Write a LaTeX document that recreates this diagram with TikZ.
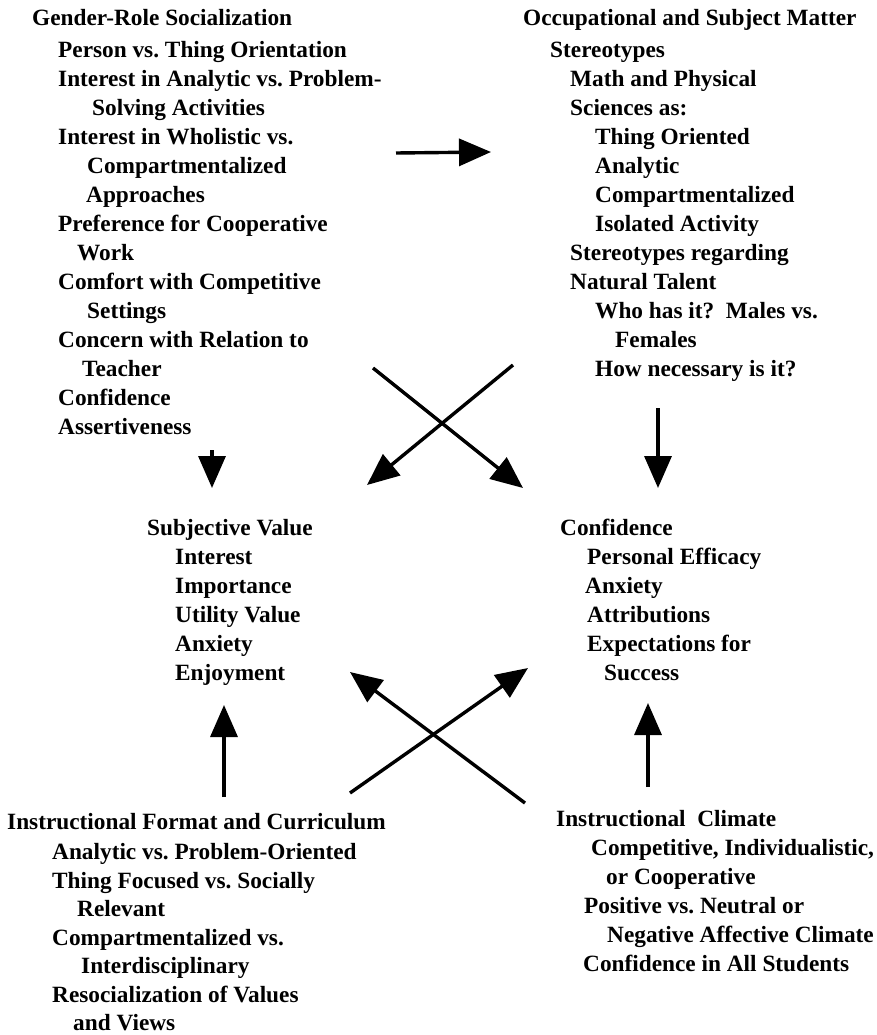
\documentclass[tikz,border=0pt]{standalone}
\usepackage{fontspec}
\setmainfont{Liberation Serif}
\usepackage{tikz}
\usetikzlibrary{arrows.meta}
\newcommand{\indt}[1]{\hspace*{#1pt}}
\tikzset{
  textblock/.style={anchor=north west, inner sep=0pt, align=left, font=\fontsize{23.3}{29}\selectfont\bfseries\frenchspacing},
  arrowline/.style={-{Triangle[length=32pt,width=27pt]}, line width=3.4pt, draw=black}
}

\begin{document}
\begin{tikzpicture}[x=1pt,y=1pt]
    \useasboundingbox (0,0) rectangle (877,-1035);

    \node[textblock] (gender) at (32,-5) {\rule{0pt}{20pt}Gender-Role Socialization\\[3pt]
      \indt{26}Person vs. Thing Orientation\\
      \indt{26}Interest in Analytic vs. Problem-\\
      \indt{60}Solving Activities\\
      \indt{26}Interest in Wholistic vs.\\
      \indt{55}Compartmentalized\\
      \indt{54}Approaches\\
      \indt{26}Preference for Cooperative\\
      \indt{45}Work\\
      \indt{26}Comfort with Competitive\\
      \indt{55}Settings\\
      \indt{26}Concern with Relation to\\
      \indt{50}Teacher\\
      \indt{26}Confidence\\
      \indt{26}Assertiveness};

    \node[textblock] (stereo) at (523,-5) {\rule{0pt}{20pt}Occupational and Subject Matter\\[3pt]
      \indt{27}Stereotypes\\
      \indt{47}Math and Physical\\
      \indt{47}Sciences as:\\
      \indt{72}Thing Oriented\\
      \indt{72}Analytic\\
      \indt{72}Compartmentalized\\
      \indt{72}Isolated Activity\\
      \indt{47}Stereotypes regarding\\
      \indt{47}Natural Talent\\
      \indt{72}Who has it?~ Males vs.\\
      \indt{92}Females\\
      \indt{72}How necessary is it?};

    \node[textblock] (value) at (147,-515) {\rule{0pt}{20pt}Subjective Value\\
      \indt{28}Interest\\
      \indt{28}Importance\\
      \indt{28}Utility Value\\
      \indt{28}Anxiety\\
      \indt{28}Enjoyment};

    \node[textblock] (conf) at (560,-515) {\rule{0pt}{20pt}Confidence\\
      \indt{27}Personal Efficacy\\
      \indt{25}Anxiety\\
      \indt{27}Attributions\\
      \indt{27}Expectations for\\
      \indt{44}Success};

    \node[textblock, font=\fontsize{23.3}{28.5}\selectfont\bfseries\frenchspacing] (format) at (7,-809) {\rule{0pt}{20pt}Instructional Format and Curriculum\\[2pt]
      \indt{45}Analytic vs. Problem-Oriented\\
      \indt{45}Thing Focused vs. Socially\\
      \indt{70}Relevant\\
      \indt{45}Compartmentalized vs.\\
      \indt{74}Interdisciplinary\\
      \indt{45}Resocialization of Values\\
      \indt{66}and Views};

    \node[textblock] (climate) at (556,-806) {\rule{0pt}{20pt}Instructional~ Climate\\
      \indt{35}Competitive, Individualistic,\\
      \indt{50}or Cooperative\\
      \indt{28}Positive vs. Neutral or\\
      \indt{51}Negative Affective Climate\\
      \indt{27}Confidence in All Students};

    % arrows out of the top row
    \draw[arrowline] ([shift={(364,-148)}]gender.north west) to ([shift={(-32,-147)}]stereo.north west);
    \draw[arrowline] ([shift={(180,-445)}]gender.north west) to ([shift={(65,27)}]value.north west);
    \draw[arrowline] ([shift={(341,-363)}]gender.north west) to ([shift={(-37,27)}]conf.north west);
    \draw[arrowline] ([shift={(-10,-360)}]stereo.north west) to ([shift={(220,30)}]value.north west);
    \draw[arrowline] ([shift={(135,-403)}]stereo.north west) to ([shift={(98,27)}]conf.north west);

    % arrows out of the bottom row
    \draw[arrowline] ([shift={(217,12)}]format.north west) to ([shift={(77,-190)}]value.north west);
    \draw[arrowline] ([shift={(343,16)}]format.north west) to ([shift={(-32,-153)}]conf.north west);
    \draw[arrowline] ([shift={(-31,3)}]climate.north west) to ([shift={(203,-157)}]value.north west);
    \draw[arrowline] ([shift={(92,19)}]climate.north west) to ([shift={(88,-188)}]conf.north west);
\end{tikzpicture}
\end{document}
